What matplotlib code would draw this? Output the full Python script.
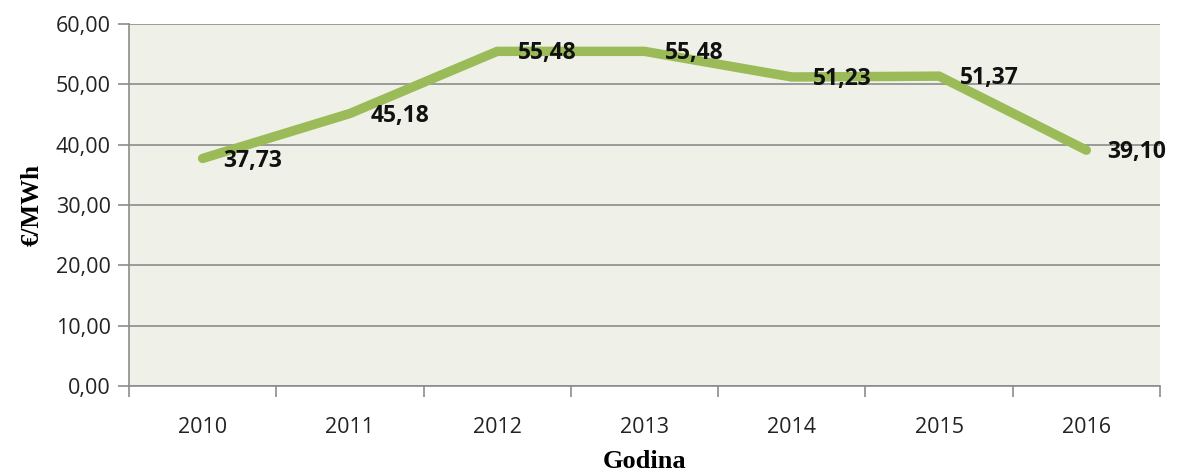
import matplotlib
matplotlib.use("Agg")
import matplotlib.pyplot as plt
import numpy as np

# ── Data ──────────────────────────────────────────────────────────────────────
years  = ["2010", "2011", "2012", "2013", "2014", "2015", "2016"]
prices = [37.73, 45.18, 55.48, 55.48, 51.23, 51.37, 39.10]
labels = ["37,73", "45,18", "55,48", "55,48", "51,23", "51,37", "39,10"]
yticks = [0, 10, 20, 30, 40, 50, 60]

GREEN = "#9BBB59"
GRID  = "#8c8c8c"
BG    = "#EFF1E8"

fig = plt.figure(figsize=(11.79, 4.72), dpi=100)
ax = fig.add_axes([0.1094, 0.182, 0.8745, 0.767])
ax.set_facecolor(BG)

x = np.arange(len(years))
ax.plot(x, prices, color=GREEN, lw=6.8, solid_capstyle="round",
        solid_joinstyle="round", zorder=3)

for xi, yi, lab in zip(x, prices, labels):
    ax.annotate(lab, (xi, yi), xytext=(15, -1.5), textcoords="offset points",
                ha="left", va="center", fontsize=16.5, fontweight="bold",
                family="Open Sans", color="#111111", zorder=4)

ax.set_xlim(-0.5, len(years) - 0.5)
ax.set_ylim(0, 60)

# y axis
ax.set_yticks(yticks)
ax.set_yticklabels([f"{v:.2f}".replace(".", ",") for v in yticks],
                   fontsize=15.5, family="Open Sans", color="#222222")
ax.yaxis.grid(True, color=GRID, lw=1.2)
ax.set_axisbelow(True)

# x axis: labels at centres, tick marks at category boundaries
ax.set_xticks(x)
ax.set_xticklabels(years, fontsize=15.5, family="Open Sans", color="#222222")
ax.tick_params(axis="x", which="major", length=0, pad=22)
ax.set_xticks(np.arange(-0.5, len(years)), minor=True)
ax.tick_params(axis="x", which="minor", length=8, color=GRID, width=1.2)
ax.tick_params(axis="y", length=8, color=GRID, width=1.2, pad=5)

for s in ["top", "right"]:
    ax.spines[s].set_visible(False)
for s in ["left", "bottom"]:
    ax.spines[s].set_color(GRID)
    ax.spines[s].set_linewidth(1.2)

ax.set_xlabel("Godina", family="Liberation Serif", fontweight="bold",
              fontsize=19, labelpad=9)
ax.set_ylabel("€/MWh", family="Liberation Serif", fontweight="bold",
              fontsize=18, labelpad=9)

fig.savefig("out.png", dpi=100)
